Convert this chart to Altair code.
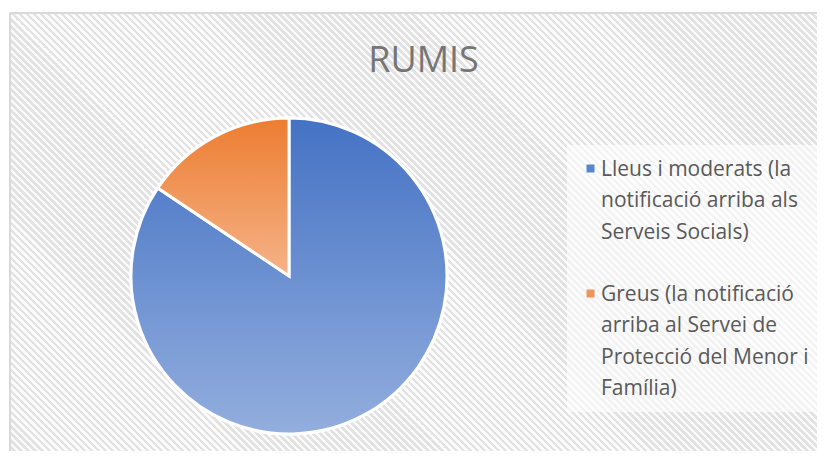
import altair as alt
import pandas as pd

categories = [
    "Lleus i moderats (la|notificació arriba als|Serveis Socials)",
    "Greus (la notificació|arriba al Servei de|Protecció del Menor i|Família)",
]
values = [84.4, 15.6]
solid_colors = ["#5b84cf", "#f0955a"]
gradients = [("#4472c4", "#93aede"), ("#ed7d31", "#f5b388")]

df = pd.DataFrame({"cat": categories, "value": values, "idx": list(range(len(categories)))})

W, H = 807, 438
CX, CY, R = 279, 263, 158

# background diagonal stripes via a many-stop linear gradient on a square rect
n = 230
stops = []
for i in range(n):
    a = i / n
    b = (i + 0.5) / n
    c = (i + 1) / n
    stops += [
        alt.GradientStop(offset=a, color="#e2e2e2"),
        alt.GradientStop(offset=b, color="#e2e2e2"),
        alt.GradientStop(offset=b, color="#fbfbfb"),
        alt.GradientStop(offset=c, color="#fbfbfb"),
    ]
stripe = alt.LinearGradient(gradient="linear", stops=stops, x1=0, y1=1, x2=1, y2=0)

bgdata = alt.Data(values=[{"k": 1}])
background = alt.Chart(bgdata).mark_rect(fill=stripe, clip=True).encode(
    x=alt.value(0), x2=alt.value(W), y=alt.value(0), y2=alt.value(W)
)
border_left = alt.Chart(bgdata).mark_rule(color="#d9d9d9", strokeWidth=2).encode(
    x=alt.value(0), y=alt.value(0), y2=alt.value(H)
)
border_top = alt.Chart(bgdata).mark_rule(color="#d9d9d9", strokeWidth=2).encode(
    x=alt.value(0), x2=alt.value(W), y=alt.value(0)
)

def angled(chart):
    return (
        chart.transform_joinaggregate(total="sum(value)")
        .transform_window(cum="sum(value)", sort=[alt.SortField("idx")])
        .transform_calculate(
            t1="2*PI*datum.cum/datum.total",
            t0="2*PI*(datum.cum-datum.value)/datum.total",
        )
    )

base = angled(alt.Chart(df)).mark_arc(radius=R, stroke="white", strokeWidth=3).encode(
    x=alt.value(CX),
    y=alt.value(CY),
    theta=alt.Theta("t0:Q", scale=None),
    theta2="t1:Q",
    color=alt.Color(
        "cat:N",
        scale=alt.Scale(domain=categories, range=solid_colors),
        sort=categories,
        legend=alt.Legend(
            title=None,
            orient="none",
            legendX=557,
            legendY=132,
            labelExpr="split(datum.label, '|')",
            labelFont="Open Sans",
            labelFontSize=21,
            labelColor="#595959",
            labelLimit=400,
            labelBaseline="alphabetic",
            labelOffset=0,
            symbolType="square",
            symbolSize=64,
            symbolStrokeWidth=0,
            rowPadding=40,
            padding=13,
            fillColor="rgba(255,255,255,0.6)",
        ),
    ),
)

layers = [background, border_left, border_top, base]
for i, cat in enumerate(categories):
    top, bottom = gradients[i]
    g = alt.LinearGradient(
        gradient="linear",
        stops=[alt.GradientStop(offset=0, color=top), alt.GradientStop(offset=1, color=bottom)],
        x1=0, y1=0, x2=0, y2=1,
    )
    layer = angled(alt.Chart(df)).transform_filter(alt.datum.cat == cat).mark_arc(
        radius=R, stroke="white", strokeWidth=3, fill=g
    ).encode(
        x=alt.value(CX),
        y=alt.value(CY),
        theta=alt.Theta("t0:Q", scale=None),
        theta2="t1:Q",
    )
    layers.append(layer)

chart = alt.layer(*layers).properties(
    width=W,
    height=H,
    padding={"left": 2, "top": 5, "right": 0, "bottom": 0},
    autosize=alt.AutoSizeParams(type="none"),
    title=alt.TitleParams(
        "RUMIS",
        font="Open Sans",
        fontSize=36,
        fontWeight="normal",
        color="#767676",
        anchor="middle",
        offset=-68,
        dx=10,
    ),
).configure(
    view=alt.ViewConfig(strokeOpacity=0),
    style={"guide-label": {"lineHeight": 31.5, "dy": 7}},
)

chart.save("out.html", embed_options={"renderer": "svg", "actions": False})
